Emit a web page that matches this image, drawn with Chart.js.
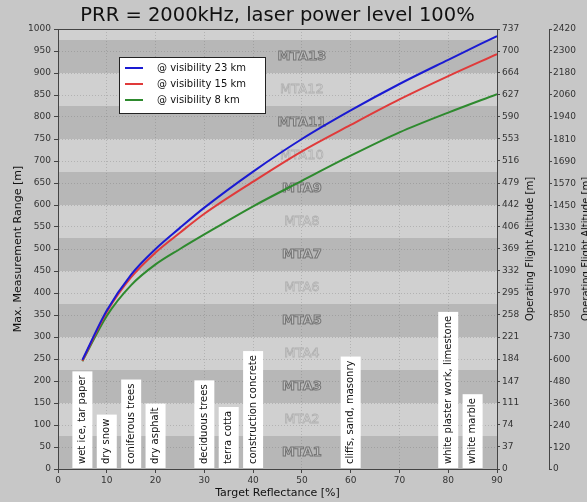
<!DOCTYPE html>
<html>
<head>
<meta charset="utf-8">
<script src="https://cdn.jsdelivr.net/npm/chart.js@4.4.0/dist/chart.umd.min.js"></script>
<style>
html, body { margin: 0; padding: 0; background: #c7c7c7; }
#wrap { width: 587px; height: 502px; }
</style>
</head>
<body>
<div id="wrap"><canvas id="rangeChart" width="587" height="502"></canvas></div>
<script>
// reflectance [%] on the x axis
const reflectance = [5, 10, 15, 20, 25, 30, 40, 50, 60, 70, 80, 90];

const range23km = [248, 360, 442, 500, 548, 594, 676, 750, 815, 875, 930, 984];
const range15km = [246, 357, 436, 492, 537, 580, 653, 722, 782, 840, 893, 943];
const range8km  = [245, 348, 418, 465, 500, 533, 597, 655, 712, 765, 810, 852];

const seriesLabels = ['@ visibility 23 km', '@ visibility 15 km', '@ visibility 8 km'];
const seriesColors = ['#1a1ad2', '#e03a3a', '#2e8a2e'];

// MTA zones, 75 m each at 2000 kHz
const MTA_ZONE = 75;
const mtaLabels = ['MTA1', 'MTA2', 'MTA3', 'MTA4', 'MTA5', 'MTA6', 'MTA7', 'MTA8', 'MTA9', 'MTA10', 'MTA11', 'MTA12', 'MTA13'];

// target materials
const materials = ['wet ice, tar paper', 'dry snow', 'coniferous trees', 'dry asphalt', 'deciduous trees',
                   'terra cotta', 'construction concrete', 'cliffs, sand, masonry', 'white plaster work, limestone', 'white marble'];
const materialReflectance = [5, 10, 15, 20, 30, 35, 40, 60, 80, 85];

// tick labels of the two altitude axes
const altitudeTicksA = [0, 37, 74, 111, 147, 184, 221, 258, 295, 332, 369, 406, 442, 479, 516, 553, 590, 627, 664, 700, 737];
const altitudeTicksB = [0, 120, 240, 360, 480, 600, 730, 850, 970, 1090, 1210, 1330, 1450, 1570, 1690, 1810, 1940, 2060, 2180, 2300, 2420];

const FONT = '"DejaVu Sans", sans-serif';
const tickFont = { family: FONT, size: 9 };
const plainTick = v => String(v);

function toPoints(ys) {
    return reflectance.map((r, i) => ({ x: r, y: ys[i] }));
}

const decorPlugin = {
    id: 'decor',
    beforeDraw(chart) {
        const { ctx, chartArea: a, scales: { y } } = chart;
        ctx.save();
        ctx.fillStyle = '#c7c7c7';
        ctx.fillRect(0, 0, chart.width, chart.height);
        // alternating MTA bands
        for (let i = 0; i * MTA_ZONE < 1000; i++) {
            const yb = y.getPixelForValue(i * MTA_ZONE);
            const yt = y.getPixelForValue(Math.min((i + 1) * MTA_ZONE, 1000));
            ctx.fillStyle = i % 2 === 0 ? '#b7b7b7' : '#d0d0d0';
            ctx.fillRect(a.left, yt, a.right - a.left, yb - yt);
        }
        ctx.restore();
    },
    beforeDatasetsDraw(chart) {
        const { ctx, scales: { x, y } } = chart;
        ctx.save();
        ctx.textAlign = 'center';
        ctx.textBaseline = 'middle';
        mtaLabels.forEach((lab, i) => {
            const px = x.getPixelForValue(50);
            const py = y.getPixelForValue((i + 0.5) * MTA_ZONE);
            if (i % 2 === 0) {
                ctx.font = 'bold 13px ' + FONT;
                ctx.fillStyle = '#c0c0c0';
                ctx.strokeStyle = '#757575';
                ctx.lineWidth = 1;
            } else {
                ctx.font = '13px ' + FONT;
                ctx.fillStyle = '#e0e0e0';
                ctx.strokeStyle = '#b0b0b0';
                ctx.lineWidth = 0.8;
            }
            ctx.fillText(lab, px, py);
            ctx.strokeText(lab, px, py);
        });
        ctx.restore();
    },
    afterDatasetsDraw(chart) {
        const { ctx, chartArea: a, scales: { x, y } } = chart;
        ctx.save();

        // material boxes
        ctx.font = '10px ' + FONT;
        const base = y.getPixelForValue(0) - 1;
        materials.forEach((m, i) => {
            const px = x.getPixelForValue(materialReflectance[i]);
            const w = ctx.measureText(m).width;
            const h = w + 8;
            ctx.fillStyle = '#ffffff';
            ctx.fillRect(px - 10, base - h, 20, h);
            ctx.save();
            ctx.translate(px, base - 4);
            ctx.rotate(-Math.PI / 2);
            ctx.fillStyle = '#111';
            ctx.textAlign = 'left';
            ctx.textBaseline = 'middle';
            ctx.fillText(m, 0, 0);
            ctx.restore();
        });

        // top spine
        ctx.strokeStyle = '#444';
        ctx.lineWidth = 1;
        ctx.beginPath();
        ctx.moveTo(a.left, a.top + 0.5);
        ctx.lineTo(a.right, a.top + 0.5);
        ctx.stroke();

        // legend
        const lx = a.left + 61, ly = a.top + 28;
        ctx.fillStyle = '#ffffff';
        ctx.fillRect(lx, ly, 146, 56);
        ctx.strokeStyle = '#222';
        ctx.strokeRect(lx + 0.5, ly + 0.5, 146, 56);
        ctx.font = '10px ' + FONT;
        ctx.textAlign = 'left';
        ctx.textBaseline = 'middle';
        seriesLabels.forEach((lab, i) => {
            const yy = ly + 11 + i * 16;
            ctx.strokeStyle = seriesColors[i];
            ctx.lineWidth = 2;
            ctx.beginPath();
            ctx.moveTo(lx + 6, yy);
            ctx.lineTo(lx + 24, yy);
            ctx.stroke();
            ctx.fillStyle = '#111';
            ctx.fillText(lab, lx + 38, yy);
        });

        // titles
        ctx.fillStyle = '#111';
        ctx.textAlign = 'center';
        ctx.textBaseline = 'middle';
        ctx.font = '19.5px ' + FONT;
        ctx.fillText('PRR = 2000kHz, laser power level 100%', (a.left + a.right) / 2, 16);
        ctx.font = '11px ' + FONT;
        ctx.fillText('Target Reflectance [%]', (a.left + a.right) / 2, 493);
        const cy = (a.top + a.bottom) / 2;
        [[18, 'Max. Measurement Range [m]', 11], [530, 'Operating Flight Altitude [m]', 10], [586, 'Operating Flight Altitude [m]', 10]]
            .forEach(([tx, t, fs]) => {
                ctx.save();
                ctx.font = fs + 'px ' + FONT;
                ctx.translate(tx, cy);
                ctx.rotate(-Math.PI / 2);
                ctx.fillText(t, 0, 0);
                ctx.restore();
            });
        ctx.restore();
    }
};

const ctx = document.getElementById('rangeChart').getContext('2d');
new Chart(ctx, {
    type: 'line',
    data: {
        datasets: [range23km, range15km, range8km].map((ys, i) => ({
            label: seriesLabels[i],
            data: toPoints(ys),
            borderColor: seriesColors[i],
            backgroundColor: seriesColors[i],
            borderWidth: 2,
            pointRadius: 0,
            cubicInterpolationMode: 'monotone',
            fill: false
        }))
    },
    options: {
        responsive: false,
        animation: false,
        layout: { padding: { top: 29, left: 0, right: 0, bottom: 0 } },
        plugins: {
            legend: { display: false },
            tooltip: { enabled: false },
            title: { display: false }
        },
        scales: {
            x: {
                type: 'linear',
                min: 0,
                max: 90,
                ticks: { stepSize: 10, font: tickFont, color: '#333', padding: 2, callback: plainTick },
                grid: { color: 'rgba(110,110,110,0.3)', tickLength: 4, tickColor: '#444' },
                border: { color: '#444', dash: [1, 2] },
                afterFit(scale) { scale.height = 33; }
            },
            y: {
                min: 0,
                max: 1000,
                ticks: { stepSize: 50, font: tickFont, color: '#333', padding: 3, callback: plainTick },
                grid: { color: 'rgba(110,110,110,0.3)', tickLength: 4, tickColor: '#444' },
                border: { color: '#444', dash: [1, 2] },
                afterFit(scale) { scale.width = 58; }
            },
            y1: {
                position: 'right',
                weight: 0,
                min: 0,
                max: 737,
                afterBuildTicks(scale) { scale.ticks = altitudeTicksA.map(v => ({ value: v })); },
                ticks: { font: tickFont, color: '#333', padding: 2, callback: plainTick },
                grid: { drawOnChartArea: false, tickLength: 3, tickColor: '#444' },
                border: { color: '#444' },
                afterFit(scale) { scale.width = 52; }
            },
            y2: {
                position: 'right',
                weight: 1,
                min: 0,
                max: 2420,
                afterBuildTicks(scale) { scale.ticks = altitudeTicksB.map(v => ({ value: v })); },
                ticks: { font: tickFont, color: '#333', padding: 1, callback: plainTick },
                grid: { drawOnChartArea: false, tickLength: 3, tickColor: '#444' },
                border: { color: '#444' },
                afterFit(scale) { scale.width = 38; }
            }
        }
    },
    plugins: [decorPlugin]
});
</script>
</body>
</html>
